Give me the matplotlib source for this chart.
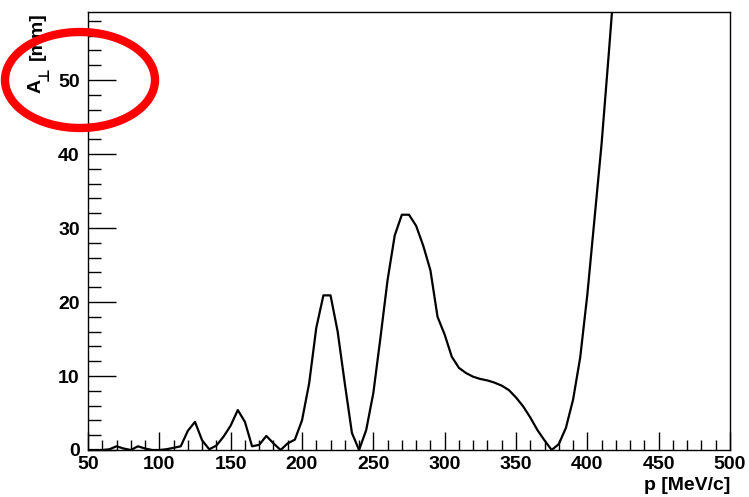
import numpy as np
import matplotlib.pyplot as plt
from matplotlib.patches import Ellipse
from matplotlib.ticker import MultipleLocator

plt.rcParams['font.family'] = ['Liberation Sans', 'DejaVu Sans']
plt.rcParams['font.weight'] = 'bold'

# momentum grid [MeV/c] and amplitude [mm]
p = [50, 55, 60, 65, 70, 75, 80, 85, 90, 95, 100, 105, 110, 115, 120, 125,
     130, 135, 140, 145, 150, 155, 160, 165, 170, 175, 180, 185, 190, 195,
     200, 205, 210, 215, 220, 225, 230, 235, 240, 245, 250, 255, 260, 265,
     270, 275, 280, 285, 290, 295, 300, 305, 310, 315, 320, 325, 330, 335,
     340, 345, 350, 355, 360, 365, 370, 375, 380, 385, 390, 395, 400, 405,
     410, 415, 420]
amp = [0.0, 0.0, 0.0, 0.1, 0.5, 0.2, 0.0, 0.5, 0.2, 0.0, 0.0, 0.1, 0.3, 0.5,
       2.6, 3.8, 1.3, 0.1, 0.6, 1.8, 3.3, 5.4, 3.8, 0.5, 0.7, 1.9, 0.9, 0.0,
       0.9, 1.4, 4.0, 9.0, 16.5, 20.9, 20.9, 16.0, 9.0, 2.3, 0.0, 2.7, 7.7,
       15.2, 23.0, 29.0, 31.8, 31.8, 30.3, 27.6, 24.3, 18.0, 15.6, 12.6, 11.1,
       10.4, 9.9, 9.6, 9.4, 9.1, 8.7, 8.1, 7.1, 5.9, 4.4, 2.7, 1.3, 0.0, 0.8,
       3.0, 6.8, 12.5, 21.0, 31.2, 41.4, 53.5, 66.0]

W, H = 749, 497
fig = plt.figure(figsize=(W/100, H/100), dpi=100)
ax = fig.add_axes([88/W, 1-450/H, 642/W, 438/H])

ax.plot(p, amp, color='black', lw=1.6)
ax.set_xlim(50, 500)
ax.set_ylim(0, 59.2)

#ticks inside, ROOT style
ax.xaxis.set_major_locator(MultipleLocator(50))
ax.xaxis.set_minor_locator(MultipleLocator(10))
ax.yaxis.set_major_locator(MultipleLocator(10))
ax.yaxis.set_minor_locator(MultipleLocator(2))
ax.tick_params(axis='x', which='major', direction='in', length=13, width=1, labelsize=14, pad=4)
ax.tick_params(axis='x', which='minor', direction='in', length=7, width=1)
ax.tick_params(axis='y', which='major', direction='in', length=20, width=1, labelsize=14, pad=6)
ax.tick_params(axis='y', which='minor', direction='in', length=9, width=1)
for s in ax.spines.values():
    s.set_linewidth(1)
for lab in ax.get_xticklabels() + ax.get_yticklabels():
    lab.set_fontweight('bold')

fig.text(730/W, 1-486/H, 'p [MeV/c]', ha='right', va='center', fontsize=14, fontweight='bold')

#y title built from pieces: A, subscript perp, [mm]
fig.text(36/W, 1-93/H, 'A', ha='center', va='bottom', rotation=90, fontsize=14, fontweight='bold')
fig.text(44/W, 1-81/H, '\u22a5', ha='center', va='bottom', rotation=90, fontsize=11,
         fontweight='bold', family=['DejaVu Sans'])
fig.text(37/W, 1-12/H, '[mm]', ha='center', va='top', rotation=90, fontsize=14, fontweight='bold')

#red marker ellipse round the y label
fig.patches.append(Ellipse((80/W, 1-80/H), 150/W, 96/H, transform=fig.transFigure,
                           fill=False, edgecolor='#ff0000', lw=6, zorder=10))

fig.savefig('out.png', dpi=100)
